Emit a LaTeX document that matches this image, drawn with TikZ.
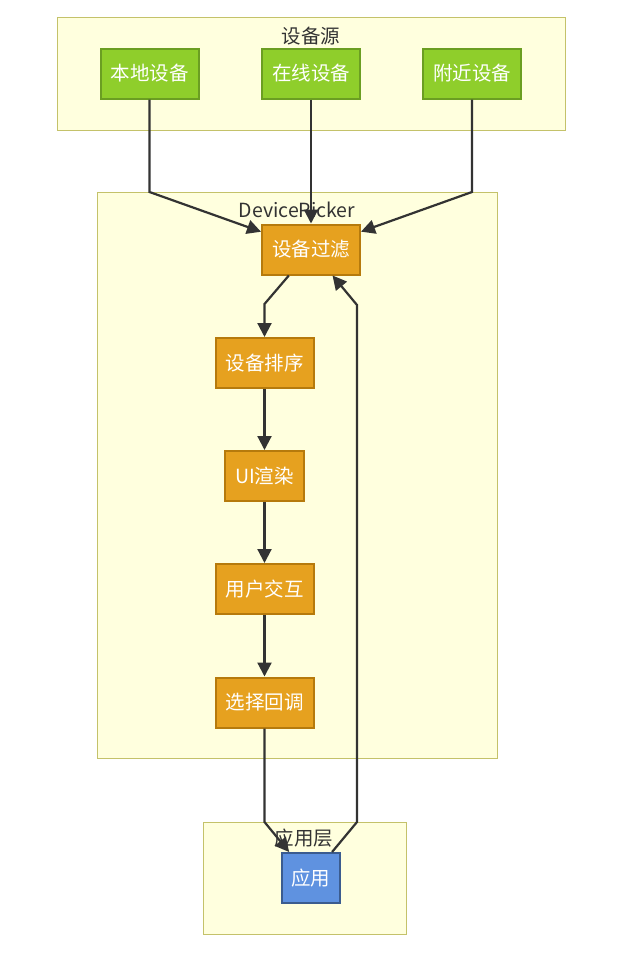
\documentclass[tikz,border=0pt]{standalone}
\usepackage{fontspec}
\setmainfont{Noto Sans CJK SC}
\usetikzlibrary{arrows.meta}
\definecolor{clusterfill}{HTML}{FFFFDE}
\definecolor{clusterline}{HTML}{C4C26A}
\definecolor{srcfill}{HTML}{8FCE2B}
\definecolor{srcline}{HTML}{6B9E22}
\definecolor{stepfill}{HTML}{E6A11F}
\definecolor{stepline}{HTML}{B67A0C}
\definecolor{appfill}{HTML}{5F92E0}
\definecolor{appline}{HTML}{3B5C8F}
\definecolor{edgecol}{HTML}{333333}

\begin{document}
\begin{tikzpicture}[x=1pt, y=-1pt,
    every node/.style={font=\fontsize{19.5}{23}\selectfont, inner sep=0pt},
    cluster/.style={draw=clusterline, fill=clusterfill, line width=1.2pt, anchor=north west},
    title/.style={text=edgecol},
    box/.style={draw, line width=2pt, text=white, minimum height=50pt},
    srcbox/.style={box, fill=srcfill, draw=srcline, minimum width=98pt},
    stepbox/.style={box, fill=stepfill, draw=stepline, minimum width=98pt},
    appbox/.style={box, fill=appfill, draw=appline, minimum width=58pt},
    edge/.style={draw=edgecol, line width=2.2pt, -{Triangle[length=14pt,width=14pt]}}]
    \useasboundingbox (0,0) rectangle (629,961);

    \node[cluster, minimum width=508pt, minimum height=113pt] (sources) at (57,17) {};
    \node[cluster, minimum width=400pt, minimum height=566pt] (picker) at (97,192) {};
    \node[cluster, minimum width=203pt, minimum height=112pt] (applayer) at (203,822) {};

    \node[title] (sourcestitle) at (311,36) {设备源};
    \node[title] (pickertitle) at (297,210) {DevicePicker};
    \node[title] (applayertitle) at (304,838) {应用层};

    \node[srcbox] (local) at (149.5,73.5) {本地设备};
    \node[srcbox] (online) at (311,73.5) {在线设备};
    \node[srcbox] (nearby) at (472,73.5) {附近设备};

    \node[stepbox] (filter) at (311,249.5) {设备过滤};
    \node[stepbox] (sort) at (264.5,363) {设备排序};
    \node[stepbox, minimum width=79pt] (render) at (264.5,476) {UI渲染};
    \node[stepbox] (interact) at (264.5,589) {用户交互};
    \node[stepbox] (callback) at (264.5,702.5) {选择回调};

    \node[appbox] (app) at (310.5,878) {应用};

    \draw[edge] (local.south) -- (local.south |- picker.north) -- (filter);
    \draw[edge] (online) -- (filter);
    \draw[edge] (nearby.south) -- (nearby.south |- picker.north) -- (filter);

    \draw[edge] (filter) -- ([yshift=33pt]sort.north) -- (sort.north);
    \draw[edge] (sort) -- (render);
    \draw[edge] (render) -- (interact);
    \draw[edge] (interact) -- (callback);

    \draw[edge] (callback.south) -- (callback.south |- applayer.north) -- (app);
    \draw[edge] (app) -- (357,822) -- (357,305) -- (filter);
\end{tikzpicture}
\end{document}
